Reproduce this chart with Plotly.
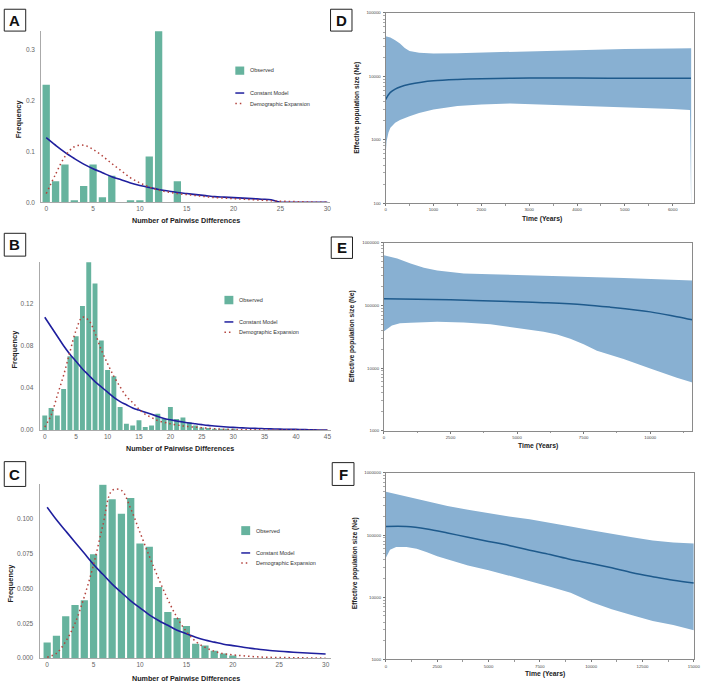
import plotly.graph_objects as go

W, H = 709, 686

# ---------------- Panel A (mismatch distribution) ----------------
a_obs_x = [0, 1, 2, 3, 4, 5, 6, 7, 8, 9, 10, 11, 12, 13, 14]
a_obs = [0.231, 0.041, 0.074, 0.004, 0.032, 0.074, 0.010, 0.052, 0.0, 0.004, 0.004, 0.090, 0.336, 0.0, 0.041]
a_x = list(range(0, 31))
a_const = [0.127, 0.112, 0.098, 0.086, 0.075, 0.066, 0.058, 0.050, 0.044, 0.038, 0.033, 0.029, 0.025,
           0.022, 0.019, 0.017, 0.015, 0.013, 0.011, 0.010, 0.009, 0.008, 0.007, 0.006, 0.005, 0.0,
           0.0, 0.0, 0.0, 0.0, 0.0]
a_demo = [0.017, 0.055, 0.090, 0.109, 0.112, 0.104, 0.091, 0.076, 0.062, 0.048, 0.038, 0.030, 0.024,
          0.020, 0.017, 0.015, 0.013, 0.011, 0.009, 0.008, 0.007, 0.006, 0.005, 0.004, 0.003, 0.002,
          0.0015, 0.001, 0.0005, 0.0, 0.0]

# ---------------- Panel B ----------------
b_obs_x = list(range(0, 31))
b_obs = [0.0138, 0.021, 0.014, 0.039, 0.070, 0.089, 0.1175, 0.159, 0.139, 0.085, 0.057, 0.051, 0.022,
         0.006, 0.0044, 0.0094, 0.003, 0.0044, 0.0156, 0.0106, 0.022, 0.0106, 0.012, 0.0075, 0.0044,
         0.0025, 0.002, 0.001, 0.0008, 0.0006, 0.0004]
b_x = list(range(0, 46))
b_const = [0.107, 0.098, 0.089, 0.080, 0.072, 0.065, 0.058, 0.052, 0.046, 0.041, 0.036, 0.031, 0.027,
           0.024, 0.021, 0.019, 0.017, 0.015, 0.013, 0.011, 0.0098, 0.0087, 0.0077, 0.0068, 0.006,
           0.0052, 0.0045, 0.004, 0.0035, 0.003, 0.0026, 0.0023, 0.002, 0.0018, 0.0016, 0.0014, 0.0012,
           0.0011, 0.0009, 0.0008, 0.0007, 0.0006, 0.0004, 0.0003, 0.0001, 0.0]
b_demo = [0.003, 0.014, 0.033, 0.052, 0.074, 0.095, 0.107, 0.104, 0.092, 0.076, 0.063, 0.051, 0.041,
          0.032, 0.026, 0.020, 0.015, 0.012, 0.009, 0.0075, 0.006, 0.005, 0.004, 0.0033, 0.0028,
          0.0023, 0.0018, 0.0014, 0.001, 0.0008, 0.0006, 0.0005, 0.0004, 0.0003, 0.0003, 0.0002,
          0.0002, 0.0002, 0.0001, 0.0001, 0.0001, 0.0, 0.0, 0.0, 0.0, 0.0]

# ---------------- Panel C ----------------
c_obs_x = list(range(0, 21))
c_obs = [0.0113, 0.016, 0.030, 0.038, 0.0415, 0.0743, 0.124, 0.1137, 0.1033, 0.1146, 0.082, 0.0797,
         0.051, 0.033, 0.0288, 0.023, 0.0104, 0.009, 0.0054, 0.0033, 0.0019]
c_x = list(range(0, 31))
c_const = [0.108, 0.099, 0.091, 0.083, 0.075, 0.067, 0.060, 0.053, 0.047, 0.041, 0.036, 0.031, 0.027,
           0.0235, 0.020, 0.0175, 0.015, 0.013, 0.0115, 0.010, 0.009, 0.008, 0.007, 0.0062, 0.0055,
           0.005, 0.0045, 0.0041, 0.0037, 0.0033, 0.003]
c_demo = [0.0007, 0.0035, 0.012, 0.025, 0.044, 0.067, 0.095, 0.120, 0.120, 0.107, 0.090, 0.073, 0.057,
          0.042, 0.029, 0.019, 0.012, 0.0078, 0.005, 0.0032, 0.0024, 0.0018, 0.0012, 0.0008, 0.0006,
          0.0005, 0.0004, 0.0003, 0.0002, 0.0001, 0.0]

# ---------------- Panel D (Bayesian skyline) ----------------
d_up_t = [0, 100, 200, 300, 400, 500, 700, 1000, 1500, 2000, 3000, 4000, 5000, 6000, 6385]
d_up = [43000, 41000, 37000, 33000, 28000, 25000, 23500, 23000, 23200, 23800, 25000, 26000, 27000, 27500, 27700]
d_lo_t = [0, 20, 60, 100, 200, 300, 500, 700, 1000, 1500, 2000, 2600, 3000, 4000, 5000, 6000, 6360, 6385]
d_lo = [550, 950, 1300, 1550, 1850, 2050, 2350, 2650, 3000, 3400, 3600, 3750, 3700, 3500, 3250, 3050, 2950, 80]
d_med_t = [0, 50, 100, 200, 300, 500, 750, 1000, 1500, 2000, 3000, 4000, 5000, 6000, 6380]
d_med = [4300, 5000, 5600, 6300, 6800, 7500, 8100, 8500, 8900, 9150, 9400, 9400, 9350, 9300, 9300]

# ---------------- Panel E ----------------
e_up_t = [0, 500, 1000, 1500, 2000, 2500, 3000, 4000, 5000, 6000, 7000, 7500, 8000, 9000, 10000, 11584]
e_up = [637000, 563000, 470000, 400000, 363000, 346000, 325000, 315000, 307000, 300000, 298000, 290000,
        283000, 275000, 265000, 250000]
e_lo_t = [0, 300, 600, 1000, 2000, 3000, 4000, 5000, 6000, 6500, 7000, 7500, 8000, 9000, 10000, 11000, 11584]
e_lo = [38600, 48000, 52000, 53000, 55000, 53500, 50000, 44000, 38000, 34500, 29400, 24000, 18800,
        13900, 9800, 7000, 5850]
e_med_t = [0, 2500, 5000, 6000, 7500, 8500, 10000, 11000, 11584]
e_med = [128000, 123000, 115000, 111000, 103000, 94000, 79000, 66000, 59000]

# ---------------- Panel F ----------------
f_up_t = [0, 1000, 2000, 3000, 4000, 5000, 6000, 7000, 8000, 9000, 10000, 11000, 12000, 13000, 14000, 15000]
f_up = [498000, 414000, 345000, 294000, 254000, 224000, 198000, 180000, 159000, 137000, 119000, 104000,
        92000, 82000, 76000, 73000]
f_lo_t = [0, 200, 500, 1000, 1500, 2000, 2500, 3000, 4000, 5000, 6000, 7000, 8000, 9000, 10000, 11000,
          12000, 13000, 14000, 15000]
f_lo = [43000, 58000, 64000, 64000, 60000, 53000, 45500, 40400, 32400, 27300, 22400, 18200, 14800,
        11800, 8400, 6440, 5140, 4170, 3570, 2960]
f_med_t = [0, 1000, 2000, 3000, 4000, 5000, 6000, 7000, 8000, 9000, 10000, 11000, 12000, 13000, 14000, 15000]
f_med = [137000, 137000, 125000, 108000, 92000, 79000, 68000, 57000, 48500, 40400, 35000, 29700, 24800,
         21400, 18700, 16900]

labels = ["A", "B", "C", "D", "E", "F"]
legend_names = ["Observed", "Constant Model", "Demographic Expansion"]
x_title_left = "Number of Pairwise Differences"
y_title_left = "Frequency"
x_title_right = "Time (Years)"
y_title_right = "Effective population size (Ne)"

BAR = "#66b39e"
BLUE = "#1f1f9e"
RED = "#b3423c"
BAND = "#88b0d2"
MED = "#1e5a8c"
FONT = "Liberation Sans, Arial, sans-serif"


def px(x):
    return x / W


def py(y):
    return 1 - y / H


fig = go.Figure()
layout = dict(width=W, height=H, margin=dict(l=0, r=0, t=0, b=0), plot_bgcolor="white",
              paper_bgcolor="white", showlegend=False, font=dict(family=FONT))

# left panel geometry
left = [
    (40.7, 333.0, 29.0, 201.7, [-0.53, 30.32], [0, 0.337], [0, 0.1, 0.2, 0.3], ".1f"),
    (39.0, 333.3, 261.7, 431.3, [-0.83, 45.5], [0, 0.1595], [0, 0.04, 0.08, 0.12], ".2f"),
    (39.0, 333.3, 485.7, 661.0, [-0.82, 30.53], [0, 0.1245], [0, 0.025, 0.05, 0.075, 0.1], ".3f"),
]
left_data = [(a_obs_x, a_obs, a_x, a_const, a_demo), (b_obs_x, b_obs, b_x, b_const, b_demo),
             (c_obs_x, c_obs, c_x, c_const, c_demo)]

for i, (g, d) in enumerate(zip(left, left_data)):
    x0, x1, yt, yb, xr, yr, ytv, yfmt = g
    n = i + 1
    xa = "x" if n == 1 else f"x{n}"
    ya = "y" if n == 1 else f"y{n}"
    ox, oy, lx, lc, ld = d
    fig.add_trace(go.Bar(x=ox, y=oy, width=0.78, marker=dict(color=BAR, line=dict(width=0)),
                         name=legend_names[0], xaxis=xa, yaxis=ya))
    fig.add_trace(go.Scatter(x=lx, y=lc, mode="lines", line=dict(color=BLUE, width=1.6, shape="spline"),
                             name=legend_names[1], xaxis=xa, yaxis=ya))
    fig.add_trace(go.Scatter(x=lx, y=ld, mode="lines",
                             line=dict(color=RED, width=1.5, dash="1.5px,3px", shape="spline"),
                             name=legend_names[2], xaxis=xa, yaxis=ya))
    axis_common = dict(showgrid=False, zeroline=False, showline=True, linecolor="#aaaaaa", linewidth=1,
                       tickfont=dict(size=6.5, color="#666666", family=FONT), ticks="")
    layout["xaxis" if n == 1 else f"xaxis{n}"] = dict(
        domain=[px(x0), px(x1)], range=xr, anchor=ya,
        tickmode="linear", tick0=0, dtick=5, **axis_common)
    layout["yaxis" if n == 1 else f"yaxis{n}"] = dict(
        domain=[py(yb), py(yt)], range=yr, anchor=xa, tickvals=ytv, tickformat=yfmt,
        ticklabelstandoff=4, **axis_common)

# right panel geometry
right = [
    (389.0, 700.7, 11.0, 202.7, [0, 6440], [2, 5], [100, 1000, 10000, 100000], 1000,
     (d_up_t, d_up, d_lo_t, d_lo, d_med_t, d_med)),
    (387.3, 699.3, 242.7, 431.7, [0, 11584], [3, 6], [1000, 10000, 100000, 1000000], 2500,
     (e_up_t, e_up, e_lo_t, e_lo, e_med_t, e_med)),
    (389.3, 700.7, 474.3, 662.3, [0, 15000], [3, 6], [1000, 10000, 100000, 1000000], 2500,
     (f_up_t, f_up, f_lo_t, f_lo, f_med_t, f_med)),
]
for j, g in enumerate(right):
    x0, x1, yt, yb, xr, yr, ytv, dt, d = g
    n = j + 4
    xa, ya = f"x{n}", f"y{n}"
    ut, uv, lt, lv, mt, mv = d
    fig.add_trace(go.Scatter(x=ut + lt[::-1], y=uv + lv[::-1], fill="toself", fillcolor=BAND,
                             mode="lines", line=dict(width=0, color=BAND), xaxis=xa, yaxis=ya,
                             hoverinfo="skip"))
    fig.add_trace(go.Scatter(x=mt, y=mv, mode="lines", line=dict(color=MED, width=1.5, shape="spline"),
                             xaxis=xa, yaxis=ya))
    axis_common = dict(showgrid=False, zeroline=False, showline=True, mirror=True, linecolor="#8a8a8a",
                       linewidth=1, ticks="outside", ticklen=2, tickwidth=0.8, tickcolor="#777777",
                       tickfont=dict(size=4.3, color="#444444", family=FONT))
    layout[f"xaxis{n}"] = dict(domain=[px(x0), px(x1)], range=xr, anchor=ya, tickmode="linear", tick0=0,
                               dtick=dt, tickformat="d",
                               minor=dict(ticks="outside", ticklen=1.5, nticks=3, tickwidth=0.6,
                                          tickcolor="#999999"),
                               **axis_common)
    layout[f"yaxis{n}"] = dict(domain=[py(yb), py(yt)], type="log", range=yr, anchor=xa,
                               tickvals=ytv, ticktext=[str(v) for v in ytv], ticklabelstandoff=1,
                               minor=dict(ticks="outside", ticklen=1.5, dtick="D1", tickwidth=0.5,
                                          tickcolor="#aaaaaa"),
                               **axis_common)

fig.update_layout(**layout)

shapes = []
annos = []

# panel letter boxes
boxes = [(3.3, 7.3, 25.0, 29.3), (3.3, 233.0, 25.0, 256.0), (3.3, 463.0, 25.0, 488.0),
         (333.3, 7.3, 355.0, 29.3), (334.0, 236.7, 355.5, 258.3), (335.0, 464.0, 357.0, 487.0)]
for lab, (bx0, by0, bx1, by1) in zip(labels, boxes):
    shapes.append(dict(type="rect", xref="paper", yref="paper", x0=px(bx0), x1=px(bx1), y0=py(by1),
                       y1=py(by0), line=dict(color="#222222", width=1), fillcolor="white"))
    annos.append(dict(text=f"<b>{lab}</b>", xref="paper", yref="paper", x=px((bx0 + bx1) / 2),
                      y=py((by0 + by1) / 2), showarrow=False, xanchor="center", yanchor="middle",
                      font=dict(size=15, color="#111111", family=FONT)))

# manual legends for A, B, C
legs = [(237.0, 246.0, 65.0, 73.3, 249.5, 69.0, 91.7, 102.3),
        (226.0, 235.0, 296.0, 304.5, 238.7, 300.2, 322.3, 332.7),
        (243.0, 252.0, 528.0, 537.0, 256.0, 532.5, 555.0, 565.0)]
for (lx0, lx1, sy0, sy1, tx, oy_, cy_, dy_) in legs:
    shapes.append(dict(type="rect", xref="paper", yref="paper", x0=px(lx0), x1=px(lx1), y0=py(sy1),
                       y1=py(sy0), line=dict(width=0), fillcolor=BAR))
    shapes.append(dict(type="line", xref="paper", yref="paper", x0=px(lx0), x1=px(lx1), y0=py(cy_),
                       y1=py(cy_), line=dict(color=BLUE, width=1.5)))
    shapes.append(dict(type="line", xref="paper", yref="paper", x0=px(lx0), x1=px(lx1), y0=py(dy_),
                       y1=py(dy_), line=dict(color=RED, width=1.5, dash="1.5px,3px")))
    for name, yy in zip(legend_names, [oy_, cy_, dy_]):
        annos.append(dict(text=name, xref="paper", yref="paper", x=px(tx), y=py(yy), showarrow=False,
                          xanchor="left", yanchor="middle", font=dict(size=5.5, color="#333333", family=FONT)))

# axis titles (left panels)
for (fx, fy), (nx, ny) in zip([(17.3, 118.0), (13.3, 350.0), (10.0, 585.0)],
                              [(186.7, 220.0), (181.0, 449.5), (186.7, 681.0)]):
    annos.append(dict(text=f"<b>{y_title_left}</b>", xref="paper", yref="paper", x=px(fx), y=py(fy),
                      showarrow=False, textangle=-90, xanchor="center", yanchor="middle",
                      font=dict(size=7.5, color="#222222", family=FONT)))
    annos.append(dict(text=f"<b>{x_title_left}</b>", xref="paper", yref="paper", x=px(nx), y=py(ny),
                      showarrow=False, xanchor="center", yanchor="middle",
                      font=dict(size=7.2, color="#222222", family=FONT)))

# axis titles (right panels)
for (fx, fy), (nx, ny) in zip([(360.0, 106.7), (355.0, 336.7), (358.3, 565.0)],
                              [(546.7, 218.3), (543.0, 447.5), (550.0, 677.0)]):
    annos.append(dict(text=f"<b>{y_title_right}</b>", xref="paper", yref="paper", x=px(fx), y=py(fy),
                      showarrow=False, textangle=-90, xanchor="center", yanchor="middle",
                      font=dict(size=6.6, color="#222222", family=FONT)))
    annos.append(dict(text=f"<b>{x_title_right}</b>", xref="paper", yref="paper", x=px(nx), y=py(ny),
                      showarrow=False, xanchor="center", yanchor="middle",
                      font=dict(size=6.8, color="#222222", family=FONT)))

fig.update_layout(shapes=shapes, annotations=annos)
fig.write_html("out.html")
